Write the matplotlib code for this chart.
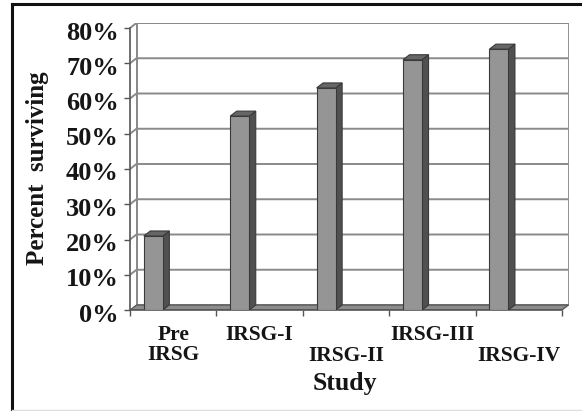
import matplotlib
matplotlib.use("Agg")
import matplotlib.pyplot as plt
import matplotlib.transforms as mtransforms
from matplotlib.patches import Polygon
from matplotlib.lines import Line2D

# Survival by study period
categories = ["Pre\nIRSG", "IRSG-I", "IRSG-II", "IRSG-III", "IRSG-IV"]
survival = [21, 55, 63, 71, 74]
yticks = [0, 10, 20, 30, 40, 50, 60, 70, 80]
ytick_labels = [f"{v}%" for v in yticks]
label_row = [0, 0, 1, 0, 1]  # staggered category labels

plt.rcParams['font.family'] = ['Liberation Serif', 'DejaVu Serif']
plt.rcParams['font.weight'] = 'bold'

W, H = 582, 411
fig = plt.figure(figsize=(W / 100, H / 100), dpi=100)
fig.patch.set_facecolor('white')

n = len(categories)
cat_px = 86.4          # pixels per category on the front plane
pct_px = 3.525         # pixels per percent
DX = 6.5 / cat_px      # depth offset (x) in data units
DY = 5.0 / pct_px      # depth offset (y) in data units
ymax = 80

left_px, bottom_px = 130, H - 310
ax_w_px = (n + DX) * cat_px
ax_h_px = (ymax + DY) * pct_px
ax = fig.add_axes([left_px / W, bottom_px / H, ax_w_px / W, ax_h_px / H])
ax.set_xlim(0, n + DX)
ax.set_ylim(0, ymax + DY)
ax.patch.set_visible(False)
for s in ax.spines.values():
    s.set_visible(False)

grid_c = '#8a8a8a'
edge_c = '#3a3a3a'
text_c = '#151515'

# back wall
ax.add_patch(Polygon([(DX, DY), (n + DX, DY), (n + DX, ymax + DY), (DX, ymax + DY)],
                     closed=True, facecolor='white', edgecolor=grid_c, lw=1.3, zorder=1))
# gridlines across side wall and back wall
for v in yticks[1:]:
    ax.plot([0, DX, n + DX], [v, v + DY, v + DY], color=grid_c, lw=1.4, zorder=2,
            solid_capstyle='butt')
# left wall edges
ax.plot([DX, DX], [DY, ymax + DY], color=grid_c, lw=1.3, zorder=2)
# front vertical axis
ax.plot([0, 0], [0, ymax], color='#555555', lw=1.2, zorder=3, clip_on=False)

# floor
ax.add_patch(Polygon([(0, 0), (n, 0), (n + DX, DY), (DX, DY)], closed=True,
                     facecolor='#8c8c8c', edgecolor='#555555', lw=0.9, zorder=3))
ax.plot([0, n], [0, 0], color='#555555', lw=1.2, zorder=3, clip_on=False)

# bars
for i, v in enumerate(survival):
    x0, x1 = i + 0.16, i + 0.38
    ax.add_patch(Polygon([(x1, 0), (x1 + DX, DY), (x1 + DX, v + DY), (x1, v)], closed=True,
                         facecolor='#505050', edgecolor=edge_c, lw=0.8, zorder=5))
    ax.add_patch(Polygon([(x0, v), (x1, v), (x1 + DX, v + DY), (x0 + DX, v + DY)], closed=True,
                         facecolor='#666666', edgecolor=edge_c, lw=0.8, zorder=5))
    ax.add_patch(Polygon([(x0, 0), (x1, 0), (x1, v), (x0, v)], closed=True,
                         facecolor='#959595', edgecolor=edge_c, lw=0.8, zorder=6))

# y ticks
ax.set_yticks(yticks, ytick_labels)
ax.tick_params(axis='y', direction='out', length=4, width=1.0, color='#555555',
               pad=4.0, labelsize=19, labelcolor=text_c)
shift = mtransforms.ScaledTranslation(0, -2.5 / 100, fig.dpi_scale_trans)
for t in ax.get_yticklabels():
    t.set_fontweight('bold')
    t.set_transform(t.get_transform() + shift)

# x ticks at category boundaries
ax.set_xticks(range(n + 1), [''] * (n + 1))
ax.tick_params(axis='x', direction='out', length=4, width=1.0, color='#555555')


def fy(py_top):
    return (H - py_top) / H


for i, lab in enumerate(categories):
    xc = (left_px + (i + 0.5) * cat_px) / W
    ytop = 325 if label_row[i] == 0 else 346
    fig.text(xc, fy(ytop), lab, ha='center', va='top', fontsize=15.5,
             fontweight='bold', linespacing=1.02, color=text_c)

fig.text(345 / W, fy(383), "Study", ha='center', va='center', fontsize=18.5,
         fontweight='bold', color=text_c)
fig.text(38 / W, fy(168), "Percent  surviving", ha='center', va='center', rotation=90,
         fontsize=18, fontweight='bold', color=text_c)

# outer frame
fig.add_artist(Line2D([12 / W, 12 / W], [0, fy(4)], transform=fig.transFigure,
                      color='#111111', lw=2.2))
fig.add_artist(Line2D([12 / W, 1], [fy(4), fy(4)], transform=fig.transFigure,
                      color='#111111', lw=2.2))
fig.add_artist(Line2D([12 / W, 1], [fy(409.5), fy(409.5)], transform=fig.transFigure,
                      color='#dddddd', lw=1.0))

fig.savefig("out.png", dpi=100)
